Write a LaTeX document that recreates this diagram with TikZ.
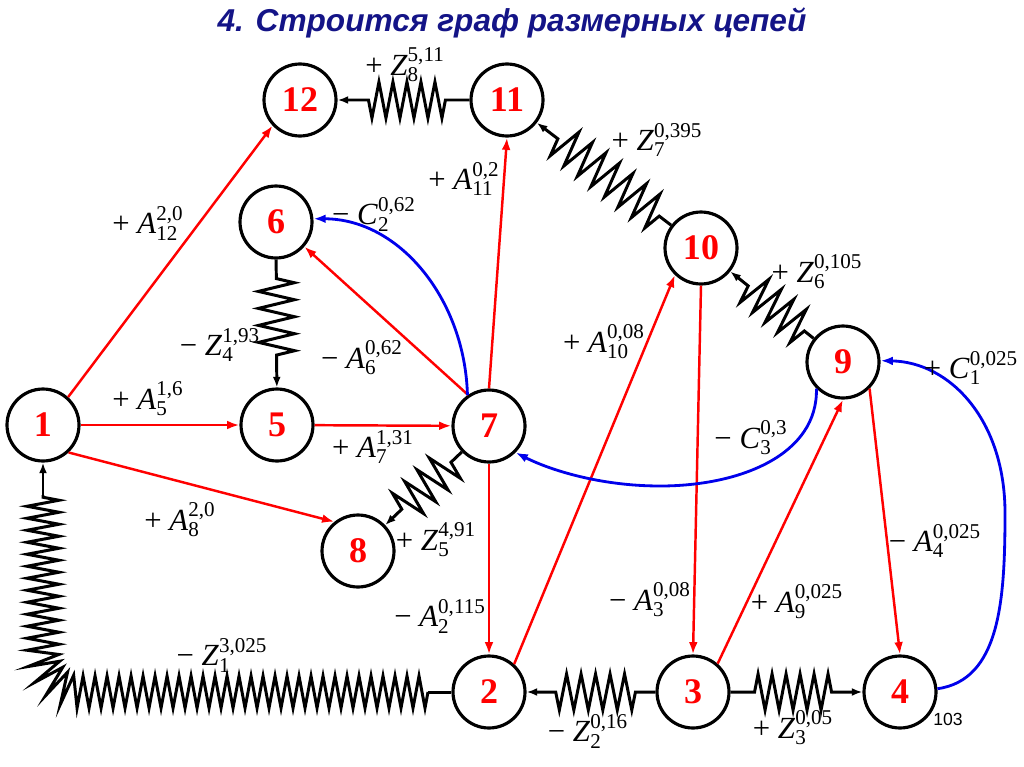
\documentclass[tikz,border=0pt]{standalone}
\usepackage{fontspec}
\setmainfont{Liberation Serif}
\newfontfamily\titlefont{Liberation Sans}
\newfontfamily\smallsans{Liberation Sans}
\usetikzlibrary{arrows.meta,decorations.pathmorphing}
\definecolor{navy}{RGB}{20,20,135}
\definecolor{bl}{RGB}{0,0,235}
\newcommand\scrsz{\fontsize{12}{12}\selectfont}
\newcommand\lbl[4]{#1\hspace{0.25em}\textit{#2}$^{\mbox{\scrsz #4}}_{\mbox{\scrsz #3}}$}
\begin{document}
\begin{tikzpicture}[x=0.02cm,y=-0.02cm,
  vtx/.style={circle, draw, line width=1.8pt, minimum size=1.44cm, inner sep=0pt, text=red,
    font=\fontsize{20.5}{20.5}\selectfont\bfseries},
  redarr/.style={draw=red, line width=1.4pt, -{Latex[length=7pt,width=5pt]}},
  bluearr/.style={draw=bl, line width=1.6pt, -{Latex[length=7pt,width=5pt]}},
  zz/.style n args={2}{line width=1.7pt, decorate,
    decoration={zigzag, amplitude=#2, segment length=#1}},
  spring/.style n args={3}{line width=1.7pt, -{Latex[length=6pt,width=4.5pt]}, decorate,
    decoration={zigzag, amplitude=0.36cm, segment length=#1, pre length=#2, post length=#3}},
  plainarr/.style={line width=1.7pt, -{Latex[length=6pt,width=4.5pt]}},
  lab/.style={font=\fontsize{17.5}{19}\selectfont, inner sep=0pt}]
\useasboundingbox (0,0) rectangle (1024,767);

\node[font=\titlefont\bfseries\itshape\fontsize{18}{20}\selectfont, text=navy] (title) at (512,23) {4. Строится граф размерных цепей};

% vertices
\node[vtx] (n12) at (300,100) {12};
\node[vtx] (n11) at (507,100) {11};
\node[vtx] (n6)  at (276,222) {6};
\node[vtx] (n10) at (701,248) {10};
\node[vtx] (n9)  at (843,362) {9};
\node[vtx] (n1)  at (43,425)  {1};
\node[vtx] (n5)  at (277,425) {5};
\node[vtx] (n7)  at (489,426) {7};
\node[vtx] (n8)  at (358,551) {8};
\node[vtx] (n2)  at (489,692) {2};
\node[vtx] (n3)  at (693,692) {3};
\node[vtx] (n4)  at (900,692) {4};

% springs
\draw[spring={0.28cm}{0.48cm}{0.52cm}] (n11) -- (n12);
\draw[spring={0.34cm}{0.3cm}{0.4cm}] (n10) -- (n11);
\draw[spring={0.32cm}{0.24cm}{0.36cm}] (n9) -- (n10);
\draw[spring={0.34cm}{0.38cm}{0.52cm}] (n6) -- (n5);
\draw[spring={0.34cm}{0.3cm}{0.36cm}] (n7) -- (n8);
\draw[spring={0.29cm}{0.4cm}{0.46cm}] (n3) -- (n2);
\draw[spring={0.28cm}{0.48cm}{0.54cm}] (n3) -- (n4);

% long spring 2 -> 1
\coordinate (s1) at (428,692);
\coordinate (s2) at (43,495);
\draw[line width=1.7pt] (n2) -- (s1);
\draw[zz={0.24cm}{0.32cm}] (s1) -- (80,692) .. controls (60,692) and (43,676) .. (43,655) -- (s2);
\draw[plainarr] (s2) -- (n1);

% red arrows
\draw[redarr] (n1.48) -- (n12.-137);
\draw[redarr] (n1) -- (n5);
\draw[redarr] (n1.-47) -- (n8.129);
\draw[redarr] (n5) -- (n7);
\draw[redarr] (n7.124) -- (n6.-41);
\draw[redarr] (n7.north) -- (n11.south);
\draw[redarr] (n7.south) -- (n2.north);
\draw[redarr] (n2.48) -- (n10.-134);
\draw[redarr] (n10.south) -- (n3.north);
\draw[redarr] (n3.49) -- (n9.south);
\draw[redarr] (n9.-45) -- (n4.north);

% blue arrows
\draw[bluearr] (n7.125) .. controls (465,300) and (400,219) .. (n6.5);
\draw[bluearr] (n9.225) .. controls (818,455) and (740,486) .. (660,486) .. controls (600,486) and (550,470) .. (n7.-45);
\draw[bluearr] (n4.5) .. controls (1000,680) and (1005,600) .. (1005,513) .. controls (1005,420) and (950,362) .. (n9.2);

% labels
\node[lab] (l1) at (405,65)  {\lbl{+}{Z}{8}{5,11}};
\node[lab] (l2) at (657,140) {\lbl{+}{Z}{7}{0,395}};
\node[lab] (l3) at (817,272) {\lbl{+}{Z}{6}{0,105}};
\node[lab] (l4) at (220,345) {\lbl{−}{Z}{4}{1,93}};
\node[lab] (l5) at (362,358) {\lbl{−}{A}{6}{0,62}};
\node[lab] (l6) at (374,214) {\lbl{−}{C}{2}{0,62}};
\node[lab] (l7) at (464,179) {\lbl{+}{A}{11}{0,2}};
\node[lab] (l8) at (148,223) {\lbl{+}{A}{12}{2,0}};
\node[lab] (l9) at (148,399) {\lbl{+}{A}{5}{1,6}};
\node[lab] (l10) at (373,447) {\lbl{+}{A}{7}{1,31}};
\node[lab] (l11) at (180,520) {\lbl{+}{A}{8}{2,0}};
\node[lab] (l12) at (436,540) {\lbl{+}{Z}{5}{4,91}};
\node[lab] (l13) at (440,616) {\lbl{−}{A}{2}{0,115}};
\node[lab] (l14) at (222,655) {\lbl{−}{Z}{1}{3,025}};
\node[lab] (l15) at (604,342) {\lbl{+}{A}{10}{0,08}};
\node[lab] (l16) at (751,438) {\lbl{−}{C}{3}{0,3}};
\node[lab] (l17) at (971,368) {\lbl{+}{C}{1}{0,025}};
\node[lab] (l18) at (935,541) {\lbl{−}{A}{4}{0,025}};
\node[lab] (l19) at (797,602) {\lbl{+}{A}{9}{0,025}};
\node[lab] (l20) at (650,600) {\lbl{−}{A}{3}{0,08}};
\node[lab] (l21) at (588,731) {\lbl{−}{Z}{2}{0,16}};
\node[lab] (l22) at (793,728) {\lbl{+}{Z}{3}{0,05}};
\node[font=\smallsans\fontsize{10}{12}\selectfont, inner sep=0pt] (pg) at (948,719) {103};
\end{tikzpicture}
\end{document}
